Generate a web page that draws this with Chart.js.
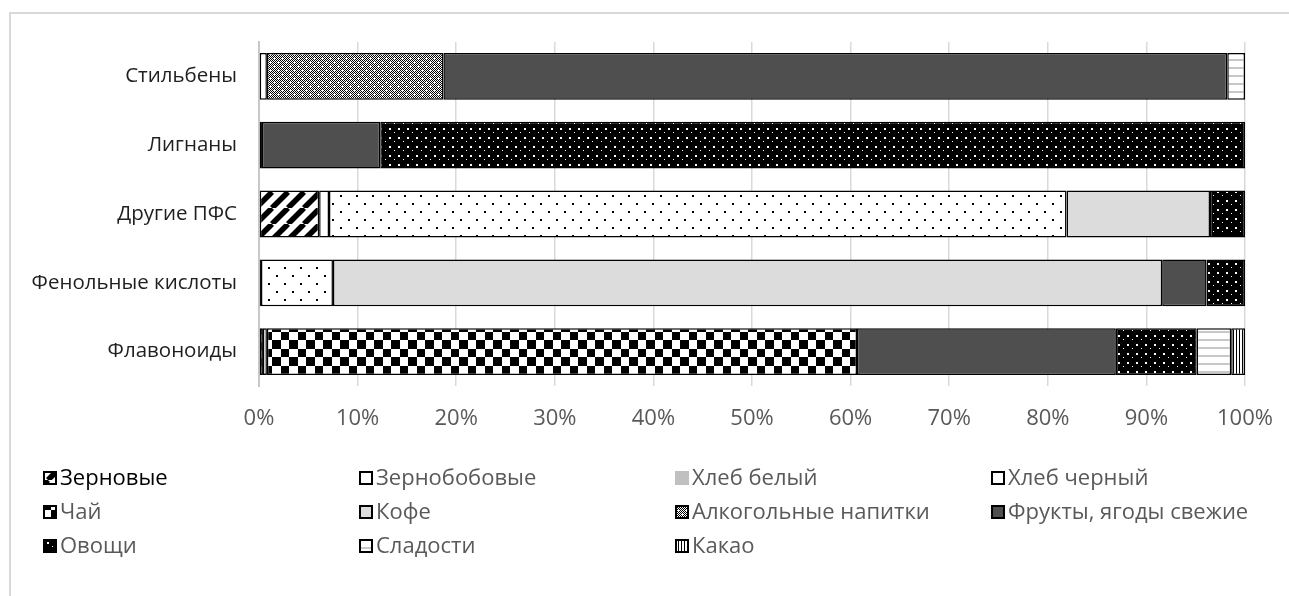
<!DOCTYPE html>
<html>
<head>
<meta charset="utf-8">
<script src="https://cdn.jsdelivr.net/npm/chart.js@4/dist/chart.umd.min.js"></script>
<style>
  html, body { margin: 0; padding: 0; background: #fff; }
  #wrap { width: 1289px; height: 596px; position: relative; }
</style>
</head>
<body>
<div id="wrap"><canvas id="chart" width="1289" height="596"></canvas></div>
<script>
// --- Data ---
const categories = ['Стильбены', 'Лигнаны', 'Другие ПФС', 'Фенольные кислоты', 'Флавоноиды'];
const seriesNames = ['Зерновые', 'Зернобобовые', 'Хлеб белый', 'Хлеб черный', 'Чай', 'Кофе',
    'Алкогольные напитки', 'Фрукты, ягоды свежие', 'Овощи', 'Сладости', 'Какао'];

const zernovye     = [0,   0.3, 6.1,  0.2, 0.4];
const zernobobovye = [0.8, 0,   1.0,  0,   0.4];
const khlebBelyi   = [0,   0,   0,    0,   0];
const khlebChernyi = [0,   0,   74.8, 7.3, 0];
const chai         = [0,   0,   0,    0,   59.85];
const kofe         = [0,   0,   14.55, 84.1, 0];
const alkogol      = [17.9, 0,  0,    0,   0];
const frukty       = [79.5, 12.0, 0,  4.5, 26.25];
const ovoshchi     = [0,   87.7, 3.55, 3.9, 8.2];
const sladosti     = [1.8, 0,   0,    0,   3.5];
const kakao        = [0,   0,   0,    0,   1.4];

const seriesValues = [zernovye, zernobobovye, khlebBelyi, khlebChernyi, chai, kofe,
    alkogol, frukty, ovoshchi, sladosti, kakao];

const tickLabels = ['0%', '10%', '20%', '30%', '40%', '50%', '60%', '70%', '80%', '90%', '100%'];

// --- Patterns ---
function makePattern(w, h, draw) {
    const c = document.createElement('canvas');
    c.width = w; c.height = h;
    const g = c.getContext('2d');
    draw(g, w, h);
    return g.createPattern(c, 'repeat');
}

const pDiagonal = makePattern(16, 16, (g, w, h) => {
    g.fillStyle = '#fff'; g.fillRect(0, 0, w, h);
    g.strokeStyle = '#000'; g.lineWidth = 5.5;
    [-16, 0, 16].forEach(o => {
        g.beginPath(); g.moveTo(o, h); g.lineTo(o + w, 0); g.stroke();
    });
});
const pSparseDots = makePattern(16, 16, (g, w, h) => {
    g.fillStyle = '#fff'; g.fillRect(0, 0, w, h);
    g.fillStyle = '#000';
    g.fillRect(4, 3, 2, 2);
    g.fillRect(12, 11, 2, 2);
});
const pChecker = makePattern(17, 17, (g, w, h) => {
    g.fillStyle = '#fff'; g.fillRect(0, 0, w, h);
    g.fillStyle = '#000';
    g.fillRect(0, 0, 9, 9);
    g.fillRect(9, 9, 8, 8);
});
const pFineChecker = makePattern(8, 8, (g, w, h) => {
    g.fillStyle = '#fff'; g.fillRect(0, 0, w, h);
    g.fillStyle = '#000';
    for (let y = 0; y < h; y++)
        for (let x = 0; x < w; x++)
            if ((x + y) % 2 === 0) g.fillRect(x, y, 1, 1);
    g.fillStyle = '#fff';
    g.fillRect(1, 2, 3, 1); g.fillRect(2, 1, 1, 3);
    g.fillRect(5, 6, 3, 1); g.fillRect(6, 5, 1, 3);
});
const pDarkDots = makePattern(9, 9, (g, w, h) => {
    g.fillStyle = '#000'; g.fillRect(0, 0, w, h);
    g.fillStyle = '#fff';
    g.fillRect(2, 2, 2, 2);
    g.fillRect(7, 6, 1, 1);
});
const pHLines = makePattern(8, 8, (g, w, h) => {
    g.fillStyle = '#fff'; g.fillRect(0, 0, w, h);
    g.fillStyle = '#c8c8c8';
    g.fillRect(0, 3, w, 2);
});
const pVLines = makePattern(3, 3, (g, w, h) => {
    g.fillStyle = '#fff'; g.fillRect(0, 0, w, h);
    g.fillStyle = '#000';
    g.fillRect(0, 0, 1, h);
});

const fills = [pDiagonal, '#ffffff', '#c0c0c0', pSparseDots, pChecker, '#dddcdd',
    pFineChecker, '#4f4f4f', pDarkDots, pHLines, pVLines];
const borders = [1.5, 1.5, 0, 1.5, 1.5, 1.5, 1.5, 1.5, 1.5, 1.5, 1.5];

const datasets = seriesNames.map((name, i) => ({
    label: name,
    data: seriesValues[i],
    backgroundColor: fills[i],
    borderColor: '#000',
    borderWidth: borders[i],
    borderSkipped: false,
    categoryPercentage: 1,
    barPercentage: 0.68
}));

// --- Plugins ---
const frame = {
    id: 'frame',
    beforeDraw(chart) {
        const ctx = chart.ctx;
        ctx.save();
        ctx.strokeStyle = '#d9d9d9';
        ctx.lineWidth = 2;
        ctx.strokeRect(10, 13, 1300, 620);
        ctx.restore();
    }
};

const gridLegend = {
    id: 'gridLegend',
    afterDraw(chart) {
        const ctx = chart.ctx;
        ctx.save();
        ctx.font = '22px "Open Sans"';
        ctx.textBaseline = 'middle';
        chart.data.datasets.forEach((ds, i) => {
            const col = i % 4, row = Math.floor(i / 4);
            const x = 43 + col * 316, y = 478 + row * 34;
            ctx.fillStyle = ds.backgroundColor;
            ctx.fillRect(x, y - 7, 14, 14);
            if (ds.borderWidth) {
                ctx.strokeStyle = '#000';
                ctx.lineWidth = 2;
                ctx.strokeRect(x + 1, y - 6, 12, 12);
            }
            ctx.fillStyle = i === 0 ? '#000' : '#595959';
            ctx.fillText(ds.label, x + 17, y + 1);
        });
        ctx.restore();
    }
};

new Chart(document.getElementById('chart'), {
    type: 'bar',
    data: { labels: categories, datasets },
    options: {
        indexAxis: 'y',
        responsive: false,
        animation: false,
        layout: { padding: { left: 0, right: 44, top: 42, bottom: 0 } },
        plugins: { legend: { display: false }, tooltip: { enabled: false } },
        scales: {
            x: {
                stacked: true,
                min: 0, max: 100,
                afterFit: s => { s.height = 210; s.paddingLeft = 0; s.paddingRight = 0; },
                afterBuildTicks: s => { s.ticks = tickLabels.map((t, i) => ({ value: i * 10 })); },
                ticks: {
                    padding: 20,
                    color: '#595959',
                    font: { family: 'Open Sans', size: 22 },
                    callback: (v, i) => tickLabels[i]
                },
                grid: { color: '#d9d9d9', lineWidth: 1.5, drawTicks: false },
                border: { display: false }
            },
            y: {
                stacked: true,
                afterFit: s => { s.width = 259; },
                ticks: {
                    padding: 22,
                    color: '#1f1f1f',
                    font: { family: 'Open Sans', size: 20.5 }
                },
                grid: { display: false, drawTicks: false },
                border: { display: true, color: '#c8c8c8', width: 2 }
            }
        }
    },
    plugins: [frame, gridLegend]
});
</script>
</body>
</html>
